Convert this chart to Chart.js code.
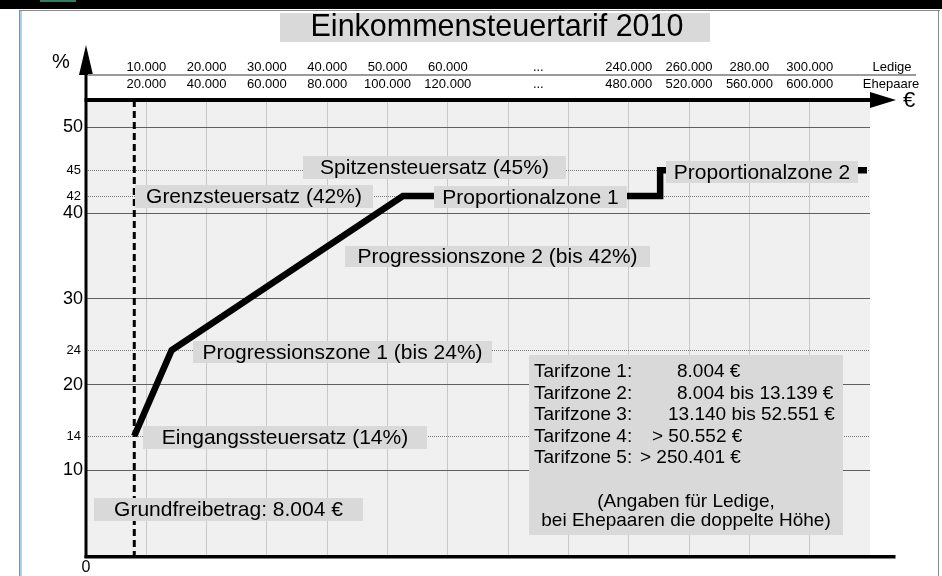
<!DOCTYPE html>
<html>
<head>
<meta charset="utf-8">
<title>Einkommensteuertarif 2010</title>
<script src="https://cdn.jsdelivr.net/npm/chart.js@4.4.0/dist/chart.umd.min.js"></script>
<style>
  html, body { margin: 0; padding: 0; background: #fff; }
  #wrap { position: relative; width: 942px; height: 576px; }
</style>
</head>
<body>
<div id="wrap"><canvas id="tarif" width="942" height="576"></canvas></div>
<script>
// --- data ---
var incomeEuro = [8004, 14200, 52551, 250401, 250401, 319000];
var taxRate    = [14, 24, 42, 42, 45, 45];

var tickEuro     = [10000, 20000, 30000, 40000, 50000, 60000, 150000, 240000, 260000, 280000, 300000];
var singleLabels = ['10.000', '20.000', '30.000', '40.000', '50.000', '60.000', '...', '240.000', '260.000', '280.00', '300.000'];
var coupleLabels = ['20.000', '40.000', '60.000', '80.000', '100.000', '120.000', '...', '480.000', '520.000', '560.000', '600.000'];

var majorRates  = [10, 20, 30, 40, 50];
var markedRates = [14, 24, 42, 45];
var grundfreibetrag = 8004;

var zoneNames  = ['Tarifzone 1:', 'Tarifzone 2:', 'Tarifzone 3:', 'Tarifzone 4:', 'Tarifzone 5:'];
var zoneRanges = ['8.004 \u20ac', '8.004 bis 13.139 \u20ac', '13.140 bis 52.551 \u20ac', '> 50.552 \u20ac', '> 250.401 \u20ac'];

// broken income axis: 0..60.000 in 10k steps, gap, 240.000.. in 20k steps
function axisPos(euro) {
    if (euro <= 60000) return euro / 10000;
    if (euro >= 240000) return 9 + (euro - 240000) / 20000;
    return 6 + 3 * (euro - 60000) / 180000;
}

// --- layout of the annotation boxes (pixels) ---
var notes = [
    { text: 'Spitzensteuersatz (45%)',      x1: 303, x2: 566, y1: 156, y2: 179 },
    { text: 'Grenzsteuersatz (42%)',        x1: 135, x2: 373, y1: 185, y2: 208 },
    { text: 'Proportionalzone 1',           x1: 434, x2: 627, y1: 186, y2: 208 },
    { text: 'Proportionalzone 2',           x1: 666, x2: 858, y1: 161, y2: 183 },
    { text: 'Progressionszone 2 (bis 42%)', x1: 345, x2: 650, y1: 246, y2: 267 },
    { text: 'Progressionszone 1 (bis 24%)', x1: 193, x2: 492, y1: 341, y2: 363 },
    { text: 'Eingangssteuersatz (14%)',     x1: 143, x2: 427, y1: 426, y2: 449 },
    { text: 'Grundfreibetrag: 8.004 \u20ac', x1: 94, x2: 363, y1: 498, y2: 521 }
];
var rangeX = [677, 677, 668, 652, 640];

var FONT = '"Liberation Sans", Arial, sans-serif';
var BOX = '#d9d9d9';

function txt(ctx, s, x, y, size, align) {
    ctx.font = size + 'px ' + FONT;
    ctx.textAlign = align || 'center';
    ctx.textBaseline = 'middle';
    ctx.fillStyle = '#000';
    ctx.fillText(s, x, y);
}

var tarifPlugin = {
    id: 'tarif',
    beforeDraw: function(chart) {
        var ctx = chart.ctx, a = chart.chartArea;
        ctx.save();
        // window frame
        ctx.fillStyle = '#000';
        ctx.fillRect(0, 0, 942, 9);
        ctx.fillStyle = '#2f7f5f';
        ctx.fillRect(40, 0, 36, 2);
        ctx.fillStyle = '#8a8a8a';
        ctx.fillRect(20, 10, 920, 1);
        ctx.fillRect(938, 10, 1, 566);
        ctx.fillRect(19, 10, 1, 566);
        ctx.fillStyle = '#a9d2f2';
        ctx.fillRect(20, 11, 2, 565);
        // plot background
        ctx.fillStyle = '#f0f0f0';
        ctx.fillRect(a.left, a.top, a.right - a.left, a.bottom - a.top);
        ctx.restore();
    },
    beforeDatasetsDraw: function(chart) {
        var ctx = chart.ctx, a = chart.chartArea;
        var xs = chart.scales.x, ys = chart.scales.y;
        ctx.save();
        // dotted helper lines at the marked rates
        ctx.strokeStyle = '#7a7a7a';
        ctx.lineWidth = 1;
        ctx.setLineDash([1, 1]);
        markedRates.forEach(function(r) {
            var y = Math.round(ys.getPixelForValue(r)) + 0.5;
            ctx.beginPath();
            ctx.moveTo(a.left, y);
            ctx.lineTo(a.right, y);
            ctx.stroke();
        });
        // Grundfreibetrag dashed line
        var gx = xs.getPixelForValue(axisPos(grundfreibetrag));
        ctx.strokeStyle = '#000';
        ctx.lineWidth = 3;
        ctx.setLineDash([7, 4]);
        ctx.beginPath();
        ctx.moveTo(gx, a.top);
        ctx.lineTo(gx, a.bottom);
        ctx.stroke();
        ctx.restore();
    },
    afterDatasetsDraw: function(chart) {
        var ctx = chart.ctx, a = chart.chartArea;
        var xs = chart.scales.x, ys = chart.scales.y;
        ctx.save();
        ctx.setLineDash([]);

        // axes
        ctx.fillStyle = '#000';
        ctx.fillRect(a.left - 1.5, 74, 3, a.bottom - 74 + 2);
        ctx.beginPath();
        ctx.moveTo(a.left, 45); ctx.lineTo(a.left - 7, 75); ctx.lineTo(a.left + 7, 75);
        ctx.closePath(); ctx.fill();
        ctx.fillRect(a.left - 1.5, a.top - 2, a.right - a.left + 4, 4);
        ctx.beginPath();
        ctx.moveTo(896, a.top); ctx.lineTo(870, a.top - 8); ctx.lineTo(870, a.top + 8);
        ctx.closePath(); ctx.fill();
        ctx.fillRect(a.left - 1.5, a.bottom - 1, 897 - a.left, 3.5);

        // label boxes
        notes.forEach(function(n) {
            ctx.fillStyle = BOX;
            ctx.fillRect(n.x1, n.y1, n.x2 - n.x1, n.y2 - n.y1);
            txt(ctx, n.text, (n.x1 + n.x2) / 2, (n.y1 + n.y2) / 2 + 1, 21);
        });

        // tariff zone box
        ctx.fillStyle = BOX;
        ctx.fillRect(529, 355, 314, 180);
        zoneNames.forEach(function(name, i) {
            var y = 372 + i * 21.5;
            txt(ctx, name, 534, y, 19, 'left');
            txt(ctx, zoneRanges[i], rangeX[i], y, 19, 'left');
        });
        txt(ctx, '(Angaben f\u00fcr Ledige,', 686, 502, 19);
        txt(ctx, 'bei Ehepaaren die doppelte H\u00f6he)', 686, 521, 19);

        // y tick labels
        majorRates.forEach(function(r) {
            txt(ctx, String(r), 83, ys.getPixelForValue(r), 18, 'right');
        });
        markedRates.forEach(function(r) {
            txt(ctx, String(r), 81, ys.getPixelForValue(r), 13, 'right');
        });
        txt(ctx, '0', a.left, 568, 16);
        txt(ctx, '%', 61, 62, 20);
        txt(ctx, '\u20ac', 909, 101, 22);

        // income labels above the axis
        ctx.fillStyle = '#9a9a9a';
        ctx.fillRect(a.left + 2, 74, 916 - a.left - 2, 2);
        tickEuro.forEach(function(e, i) {
            var x = xs.getPixelForValue(axisPos(e));
            txt(ctx, singleLabels[i], x, 67, 13);
            txt(ctx, coupleLabels[i], x, 84, 13);
        });
        txt(ctx, 'Ledige', 892, 67, 13);
        txt(ctx, 'Ehepaare', 891, 84, 13);

        // title
        ctx.fillStyle = BOX;
        ctx.fillRect(280, 13, 430, 29);
        txt(ctx, 'Einkommensteuertarif 2010', 497, 28, 30.5);
        ctx.restore();
    }
};

new Chart(document.getElementById('tarif'), {
    type: 'line',
    data: {
        datasets: [{
            data: incomeEuro.map(function(v, i) { return { x: axisPos(v), y: taxRate[i] }; }),
            borderColor: '#000',
            borderWidth: 6.5,
            borderCapStyle: 'butt',
            borderJoinStyle: 'miter',
            pointRadius: 0,
            tension: 0,
            fill: false,
            clip: false
        }]
    },
    options: {
        responsive: false,
        animation: false,
        events: [],
        layout: { autoPadding: false, padding: { left: 86, right: 72, top: 100, bottom: 20 } },
        plugins: { legend: { display: false }, tooltip: { enabled: false }, title: { display: false } },
        scales: {
            x: {
                type: 'linear', min: 0, max: 13,
                ticks: { display: false, stepSize: 1 },
                grid: {
                    drawTicks: false, lineWidth: 1,
                    color: function(c) { return (c.tick && c.tick.value > 0 && c.tick.value < 13) ? '#c8c8c8' : 'rgba(0,0,0,0)'; }
                },
                border: { display: false }
            },
            y: {
                type: 'linear', min: 0, max: 53.2,
                ticks: { display: false, stepSize: 10 },
                grid: {
                    drawTicks: false, lineWidth: 1,
                    color: function(c) { return (c.tick && c.tick.value > 0 && c.tick.value % 10 === 0) ? '#606060' : 'rgba(0,0,0,0)'; }
                },
                border: { display: false }
            }
        }
    },
    plugins: [tarifPlugin]
});
</script>
</body>
</html>
